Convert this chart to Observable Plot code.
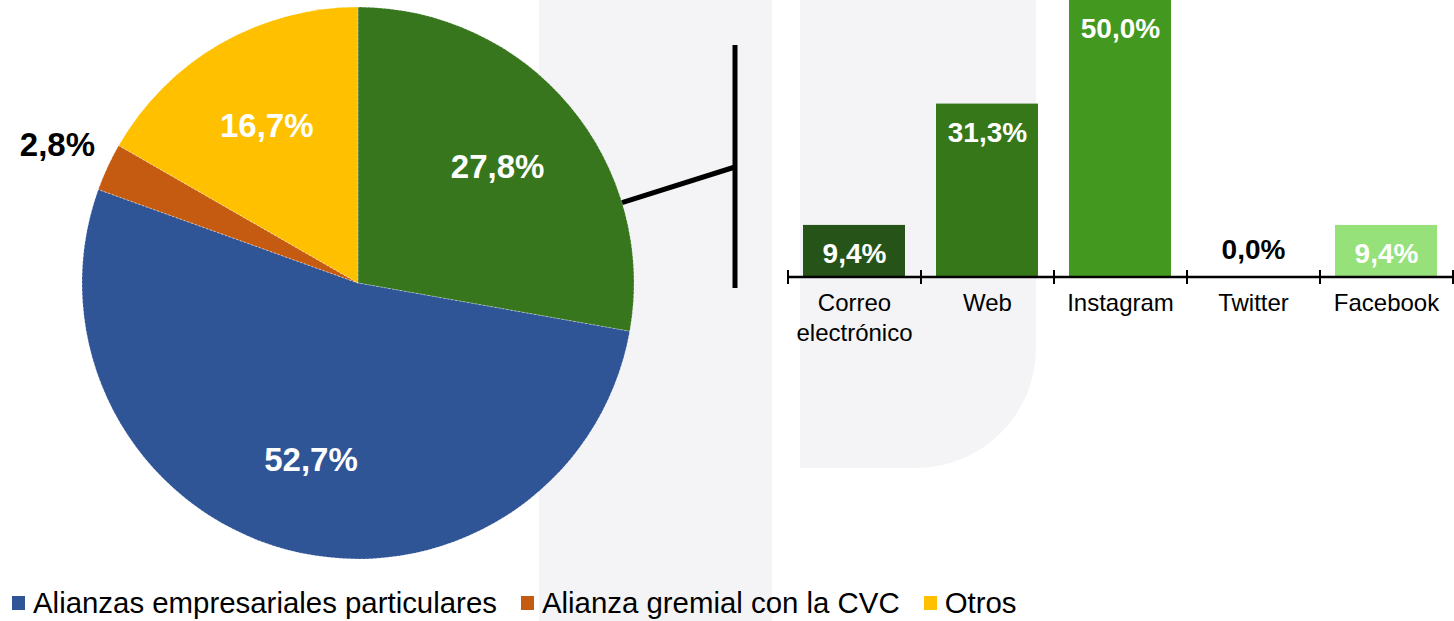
<!DOCTYPE html>
<html><head><meta charset="utf-8">
<script src="https://cdn.jsdelivr.net/npm/d3@7"></script>
<script src="https://cdn.jsdelivr.net/npm/@observablehq/plot@0.6"></script>
<style>
body{margin:0;background:#fff;font-family:"Liberation Sans",Arial,sans-serif;}
#wrap{position:relative;width:1454px;height:621px;overflow:hidden;background:#fff}
.wm{position:absolute;background:#f4f4f6}
#chart{position:absolute;left:0;top:0}
#legend{position:absolute;left:12px;top:586px;display:flex;align-items:center;font-size:29.4px;line-height:34px;color:#000;white-space:nowrap}
.item{display:flex;align-items:center;margin-right:24px}
.sw{width:13px;height:14px;margin-right:8px}
</style></head><body>
<div id="wrap">
  <div class="wm" style="left:539px;top:0;width:233px;height:621px"></div>
  <div class="wm" style="left:800px;top:0;width:236px;height:468px;border-radius:0 0 120px 0"></div>
  <div id="chart"></div>
  <div id="legend"></div>
</div>
<script>
// ---- data ----
const pieCategories = ["Redes sociales", "Alianzas empresariales particulares", "Alianza gremial con la CVC", "Otros"];
const pieValues = [27.8, 52.7, 2.8, 16.7];
const pieColors = ["#38761d", "#2f5597", "#c55a11", "#ffc000"];
const legendCategories = ["Alianzas empresariales particulares", "Alianza gremial con la CVC", "Otros"];

const platforms = ["Correo\nelectrónico", "Web", "Instagram", "Twitter", "Facebook"];
const platformValues = [9.4, 31.3, 50.0, 0.0, 9.4];
const platformColors = ["#265318", "#36771a", "#43991f", "#6cc04a", "#96e17a"];

const fmt = v => v.toFixed(1).replace(".", ",") + "%";

const pieData = pieCategories.map((name, i) => ({name, value: pieValues[i], color: pieColors[i]}));
const barData = platforms.map((name, i) => ({name, value: platformValues[i]}));

// ---- pie (custom render mark) ----
function pieMark(index, scales, values, dims) {
  const cx = 358, cy = 283, r = 276;
  const arcs = d3.pie().sort(null).value(d => d.value)(pieData);
  const arc = d3.arc().innerRadius(0).outerRadius(r);
  const g = d3.create("svg:g");
  const pg = g.append("g").attr("transform", `translate(${cx},${cy})`);
  pg.selectAll("path").data(arcs).join("path")
    .attr("d", arc)
    .attr("fill", d => d.data.color)
    .attr("stroke", "#ffffff").attr("stroke-width", 0.7).attr("stroke-opacity", 0.6)
    .attr("stroke-dasharray", "2,2");
  // labels
  arcs.forEach(a => {
    const mid = (a.startAngle + a.endAngle) / 2;
    const small = a.data.value < 5;
    const rr = small ? r * 1.2 : r * 0.66;
    pg.append("text")
      .attr("x", Math.sin(mid) * rr)
      .attr("y", -Math.cos(mid) * rr)
      .attr("dy", "0.36em")
      .attr("text-anchor", "middle")
      .attr("font-size", 33)
      .attr("font-weight", "bold")
      .attr("fill", small ? "#000" : "#fff")
      .text(fmt(a.data.value));
  });
  // connector from first slice to the bar chart
  const a0 = arcs[0];
  const ang = a0.startAngle + (a0.endAngle - a0.startAngle) * 0.73;
  const px = cx + Math.sin(ang) * r, py = cy - Math.cos(ang) * r;
  const x0 = scales.x.range()[0];
  const bx = x0 - 53;
  g.append("line").attr("x1", px).attr("y1", py).attr("x2", bx).attr("y2", 167)
    .attr("stroke", "#000").attr("stroke-width", 5);
  g.append("line").attr("x1", bx).attr("y1", 45).attr("x2", bx).attr("y2", 288)
    .attr("stroke", "#000").attr("stroke-width", 5);
  return g.node();
}

// ---- axis line with ticks at band boundaries ----
function axisMark(index, scales, values, dims) {
  const x = scales.x, y0 = scales.y(0);
  const [r0, r1] = x.range();
  const step = x.step ? x.step() : (r1 - r0) / platforms.length;
  const g = d3.create("svg:g").attr("stroke", "#000");
  g.append("line").attr("x1", r0).attr("x2", r1).attr("y1", y0).attr("y2", y0).attr("stroke-width", 2.5);
  for (let i = 0; i <= platforms.length; i++) {
    const xx = r0 + i * step;
    g.append("line").attr("x1", xx).attr("x2", xx).attr("y1", y0 - 7).attr("y2", y0 + 7).attr("stroke-width", 2);
  }
  return g.node();
}

const chart = Plot.plot({
  width: 1454,
  height: 580,
  marginLeft: 788,
  marginRight: 1,
  marginTop: 0,
  marginBottom: 0,
  style: {fontFamily: "'Liberation Sans', Arial, sans-serif", background: "transparent", overflow: "visible"},
  x: {type: "band", domain: platforms, paddingInner: 0.233, paddingOuter: 0.1165, axis: null},
  y: {domain: [0, 50], range: [277, 0], axis: null},
  color: {domain: platforms, range: platformColors},
  marks: [
    pieMark,
    Plot.barY(barData, {x: "name", y: "value", fill: "name"}),
    axisMark,
    Plot.text(barData.filter(d => d.value > 0), {x: "name", y: "value", text: d => fmt(d.value), dy: 29, fill: "#fff", fontSize: 28, fontWeight: "bold"}),
    Plot.text(barData.filter(d => d.value === 0), {x: "name", y: "value", text: d => fmt(d.value), dy: -27, fill: "#000", fontSize: 28, fontWeight: "bold"}),
    Plot.text(barData, {x: "name", y: () => 0, text: "name", lineAnchor: "top", dy: 12, fontSize: 24, lineHeight: 1.25, fill: "#000"})
  ]
});
document.getElementById("chart").appendChild(chart);

// ---- legend ----
const leg = document.getElementById("legend");
legendCategories.forEach(name => {
  const i = pieCategories.indexOf(name);
  const it = document.createElement("div"); it.className = "item";
  const sw = document.createElement("div"); sw.className = "sw"; sw.style.background = pieColors[i];
  const tx = document.createElement("span"); tx.textContent = name;
  it.appendChild(sw); it.appendChild(tx); leg.appendChild(it);
});
</script>
</body></html>
